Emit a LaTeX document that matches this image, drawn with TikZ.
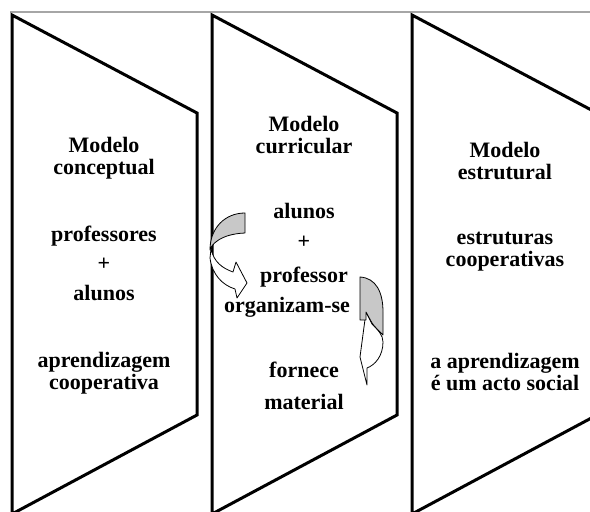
\documentclass[tikz,border=0pt]{standalone}
\usepackage{fontspec}
\setmainfont{Liberation Serif}
\usepackage{tikz}
\usetikzlibrary{positioning}
\definecolor{bandgray}{RGB}{200,200,200}
\tikzset{
    panel/.style={
        draw,
        line width=3pt,
        line join=miter
    },
    lbl/.style={
        font=\fontsize{22}{22}\selectfont\bfseries,
        align=center,
        anchor=base,
        inner sep=0pt
    },
    band/.style={
        draw,
        line width=0.8pt,
        line join=round
    }
}
\begin{document}
\begin{tikzpicture}[x=1pt,y=-1pt]
    \useasboundingbox (0,0) rectangle (590,512);
    \clip (0,0) rectangle (590,512);
    \fill[white] (0,0) rectangle (590,512);
    \draw[gray!70,line width=1.5pt] (10,12) -- (590,12);
    % the three panels
    \foreach \dx in {0,200,400}
      \draw[panel] (12+\dx,15) -- (197+\dx,113) -- (197+\dx,415) -- (12+\dx,514) -- cycle;
    % conceptual
    \node[lbl] (mod1) at (104,174) {Modelo\\conceptual};
    \node[lbl] (prof1) at (104,241) {professores};
    \node[lbl] (plus1) at (104,270) {+};
    \node[lbl] (alun1) at (104,300) {alunos};
    \node[lbl] (apr1) at (104,389) {aprendizagem\\cooperativa};
    % curricular
    \node[lbl] (mod2) at (304,153) {Modelo\\curricular};
    \node[lbl] (alun2) at (304,218) {alunos};
    \node[lbl] (plus2) at (304,248) {+};
    \node[lbl] (prof2) at (304,282) {professor};
    \node[lbl] (org2) at (287,312) {organizam-se};
    \node[lbl] (forn2) at (304,377) {fornece};
    \node[lbl] (mat2) at (304,409) {material};
    % estrutural
    \node[lbl] (mod3) at (505,179) {Modelo\\estrutural};
    \node[lbl] (estr3) at (505,266) {estruturas\\cooperativas};
    \node[lbl] (acto3) at (505,390) {a aprendizagem\\\'e um acto social};
    % curved arrows
    \draw[band,fill=white] (211,249) .. controls (214,262) and (222,268) .. (233,272)
        -- (236,262) -- (247,283) -- (237,298) -- (235,289)
        .. controls (222,285) and (212,274) .. (210,258) -- cycle;
    \draw[band,fill=bandgray] (245,213) .. controls (225,213) and (210,228) .. (210,250)
        .. controls (211,245) and (220,234) .. (245,233) -- cycle;
    \draw[band,fill=white] (366,312) -- (372,324) .. controls (378,330) and (383,335) .. (383,342)
        .. controls (383,356) and (375,365) .. (367,368) -- (367,385) -- (360,357) -- cycle;
    \draw[band,fill=bandgray] (360,277) .. controls (376,278) and (383,292) .. (383,312)
        -- (383,335) .. controls (378,330) and (374,326) .. (372,323)
        -- (366,312) -- (366,320) -- (360,320) -- cycle;
\end{tikzpicture}
\end{document}
